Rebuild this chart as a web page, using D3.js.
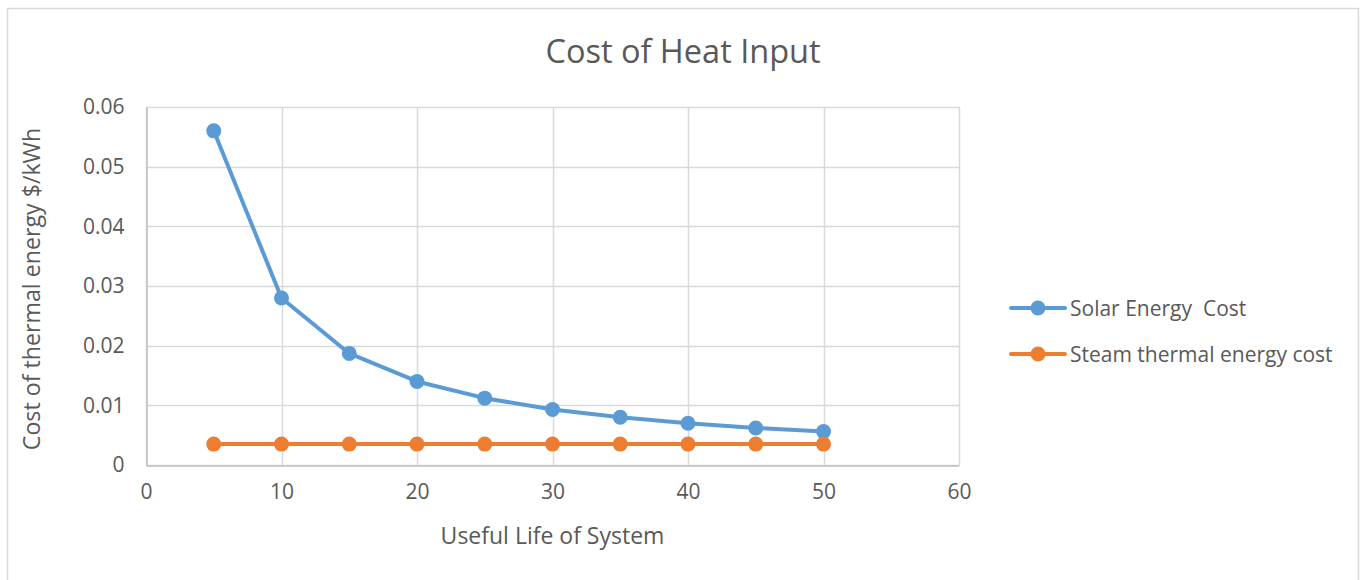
<!DOCTYPE html>
<html>
<head>
<meta charset="utf-8">
<script src="https://cdn.jsdelivr.net/npm/d3@7"></script>
<style>
  html, body { margin: 0; padding: 0; background: #fff; }
  svg { display: block; font-family: "Open Sans", sans-serif; }
</style>
</head>
<body>
<svg id="chart" width="1365" height="580"></svg>
<script>
// Useful life of the system (years)
const years = [5, 10, 15, 20, 25, 30, 35, 40, 45, 50];
// Cost of thermal energy, $/kWh
const solarCost = [0.056, 0.028, 0.0187, 0.014, 0.0112, 0.0093, 0.008, 0.007, 0.0062, 0.0056];
const steamCost = [0.0035, 0.0035, 0.0035, 0.0035, 0.0035, 0.0035, 0.0035, 0.0035, 0.0035, 0.0035];
const seriesNames = ["Solar Energy  Cost", "Steam thermal energy cost"];
const xTicks = [0, 10, 20, 30, 40, 50, 60];
const yTicks = [0, 0.01, 0.02, 0.03, 0.04, 0.05, 0.06];

const colors = ["#5B9BD5", "#ED7D31"];
const textColor = "#595959";
const gridColor = "#D9D9D9";
const font = "'Open Sans', sans-serif";

const svg = d3.select("#chart");

// chart frame
svg.append("rect")
  .attr("x", 7.5).attr("y", 8.5).attr("width", 1351).attr("height", 600)
  .attr("fill", "#fff").attr("stroke", gridColor).attr("stroke-width", 1.5);

const plot = { left: 146, top: 107, right: 959, bottom: 465 };

const x = d3.scaleLinear().domain([0, 60]).range([plot.left, plot.right]);
const y = d3.scaleLinear().domain([0, 0.06]).range([plot.bottom, plot.top]);

// gridlines
svg.append("g").selectAll("line").data(yTicks).join("line")
  .attr("x1", plot.left).attr("x2", plot.right)
  .attr("y1", d => Math.round(y(d)) + 0.5).attr("y2", d => Math.round(y(d)) + 0.5)
  .attr("stroke", gridColor).attr("stroke-width", 1.5);
svg.append("g").selectAll("line").data(xTicks).join("line")
  .attr("y1", plot.top).attr("y2", plot.bottom)
  .attr("x1", d => Math.round(x(d)) + 0.5).attr("x2", d => Math.round(x(d)) + 0.5)
  .attr("stroke", gridColor).attr("stroke-width", 1.5);

// axes
const xAxis = svg.append("g")
  .attr("transform", `translate(0,${Math.round(y(0)) + 0.5})`)
  .call(d3.axisBottom(x).tickValues(xTicks).tickSize(0).tickPadding(19).tickFormat(d3.format("d")));
xAxis.select(".domain").attr("stroke", "#BFBFBF").attr("stroke-width", 1.5);
xAxis.selectAll("text").attr("fill", textColor).attr("font-size", 21).attr("font-family", font);

const yAxis = svg.append("g")
  .attr("transform", `translate(${Math.round(x(0)) + 0.5},0)`)
  .call(d3.axisLeft(y).tickValues(yTicks).tickSize(0).tickPadding(22)
    .tickFormat(d => d === 0 ? "0" : d3.format(".2f")(d)));
yAxis.select(".domain").attr("stroke", "#BFBFBF").attr("stroke-width", 1.5);
yAxis.selectAll("text").attr("fill", textColor).attr("font-size", 21).attr("font-family", font);

// titles
svg.append("text")
  .attr("x", 683).attr("y", 63).attr("text-anchor", "middle")
  .attr("fill", textColor).attr("font-size", 32.5)
  .text("Cost of Heat Input");
svg.append("text")
  .attr("x", x(30)).attr("y", 544).attr("text-anchor", "middle")
  .attr("fill", textColor).attr("font-size", 23)
  .text("Useful Life of System");
svg.append("text")
  .attr("transform", `translate(40,${(plot.top + plot.bottom) / 2 + 3}) rotate(-90)`)
  .attr("text-anchor", "middle")
  .attr("fill", textColor).attr("font-size", 23.2)
  .text("Cost of thermal energy $/kWh");

// series
const series = [solarCost, steamCost];
const line = d3.line().x((d, i) => x(years[i])).y(d => y(d));

series.forEach((vals, s) => {
  svg.append("path")
    .datum(vals)
    .attr("d", line)
    .attr("fill", "none")
    .attr("stroke", colors[s]).attr("stroke-width", 4)
    .attr("stroke-linejoin", "round").attr("stroke-linecap", "round");
  svg.append("g").selectAll("circle").data(vals).join("circle")
    .attr("cx", (d, i) => x(years[i])).attr("cy", d => y(d))
    .attr("r", 7.5).attr("fill", colors[s]);
});

// legend
const legendY = [308, 354];
seriesNames.forEach((name, s) => {
  const g = svg.append("g").attr("transform", `translate(1011,${legendY[s]})`);
  g.append("line").attr("x1", 0).attr("x2", 54).attr("y1", 0).attr("y2", 0)
    .attr("stroke", colors[s]).attr("stroke-width", 4).attr("stroke-linecap", "round");
  g.append("circle").attr("cx", 27).attr("cy", 0).attr("r", 7.5).attr("fill", colors[s]);
  g.append("text").attr("x", 59).attr("y", 7.5)
    .attr("fill", textColor).attr("font-size", 21)
    .style("white-space", "pre")
    .text(name);
});
</script>
</body>
</html>
